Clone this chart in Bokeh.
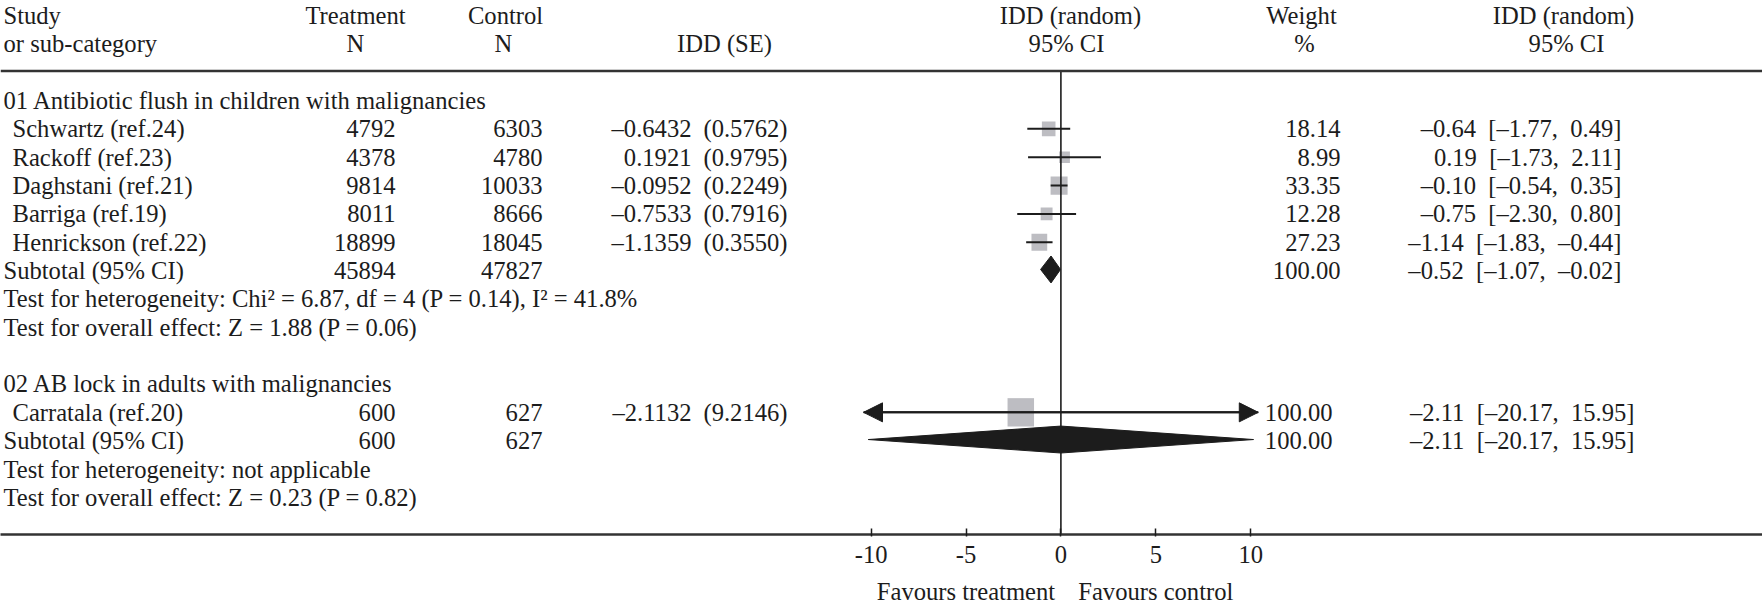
import math
from bokeh.plotting import figure
from bokeh.models import (Range1d, FixedTicker, LinearAxis, ColumnDataSource,
                          Span, Arrow, NormalHead)
from bokeh.core.properties import value
from bokeh.embed import file_html
from bokeh.resources import INLINE

# ---------------- data ----------------
group_titles = ["01 Antibiotic flush in children with malignancies",
                "02 AB lock in adults with malignancies"]
study_names = ["Schwartz (ref.24)", "Rackoff (ref.23)", "Daghstani (ref.21)",
               "Barriga (ref.19)", "Henrickson (ref.22)", "Carratala (ref.20)"]
study_group = [0, 0, 0, 0, 0, 1]
treat_n = [4792, 4378, 9814, 8011, 18899, 600]
ctrl_n = [6303, 4780, 10033, 8666, 18045, 627]
idd = [-0.6432, 0.1921, -0.0952, -0.7533, -1.1359, -2.1132]
idd_se = [0.5762, 0.9795, 0.2249, 0.7916, 0.3550, 9.2146]
weight_pct = [18.14, 8.99, 33.35, 12.28, 27.23, 100.00]
ci_low = [-1.77, -1.73, -0.54, -2.30, -1.83, -20.17]
ci_high = [0.49, 2.11, 0.35, 0.80, -0.44, 15.95]

subtotal_treat_n = [45894, 600]
subtotal_ctrl_n = [47827, 627]
subtotal_est = [-0.52, -2.11]
subtotal_low = [-1.07, -20.17]
subtotal_high = [-0.02, 15.95]
subtotal_weight = [100.00, 100.00]
heterogeneity_text = ["Test for heterogeneity: Chi\u00b2 = 6.87, df = 4 (P = 0.14), I\u00b2 = 41.8%",
                      "Test for heterogeneity: not applicable"]
overall_effect_text = ["Test for overall effect: Z = 1.88 (P = 0.06)",
                       "Test for overall effect: Z = 0.23 (P = 0.82)"]
x_ticks = [-10, -5, 0, 5, 10]
favour_labels = ["Favours treatment", "Favours control"]

# ---------------- layout constants ----------------
W, H = 1762, 607
FRAME_H = 535
ZERO_PX = 1060.4
PX_PER_UNIT = 18.98
ROW0_PX = 15.0
ROW_PX = 28.4
FONT = "Liberation Serif"
FS = "24.6px"
INK = "#1c1c1c"
BOX = "#bdbdc2"
ARROW_CLIP = 10.4
DIAMOND_CLIP = 10.15
WEIGHT_RIGHT = [1340, 1332]
CI_RIGHT = [1621, 1634]


def xd(px):
    return (px - ZERO_PX) / PX_PER_UNIT


def fm(v, d):
    return f"{v:.{d}f}".replace("-", "\u2013")


p = figure(width=W, height=H, output_backend="svg", toolbar_location=None,
           x_range=Range1d(xd(0), xd(W)),
           y_range=Range1d(start=(FRAME_H - ROW0_PX) / ROW_PX, end=-ROW0_PX / ROW_PX),
           y_axis_location=None, min_border_left=0, min_border_right=0,
           min_border_top=0, min_border_bottom=H - FRAME_H)
p.outline_line_color = None
p.grid.visible = False
p.background_fill_color = "white"
p.border_fill_color = "white"

texts = dict(x=[], y=[], text=[], align=[])


def put(px, k, s, align):
    texts["x"].append(xd(px))
    texts["y"].append(k)
    texts["text"].append(s)
    texts["align"].append(align)


# headers
put(3, 0, "Study", "left")
put(3, 1, "or sub-category", "left")
put(355, 0, "Treatment", "center")
put(355, 1, "N", "center")
put(505, 0, "Control", "center")
put(503, 1, "N", "center")
put(724, 1, "IDD (SE)", "center")
put(1070, 0, "IDD (random)", "center")
put(1066, 1, "95% CI", "center")
put(1301, 0, "Weight", "center")
put(1304, 1, "%", "center")
put(1563, 0, "IDD (random)", "center")
put(1566, 1, "95% CI", "center")

# rows
study_rows, sub_rows = [], []
k = 3
for g, title in enumerate(group_titles):
    put(3, k, title, "left")
    k += 1
    for i, name in enumerate(study_names):
        if study_group[i] != g:
            continue
        study_rows.append((i, k))
        est = round(idd[i], 2)
        put(12, k, name, "left")
        put(395, k, str(treat_n[i]), "right")
        put(542, k, str(ctrl_n[i]), "right")
        put(691, k, fm(idd[i], 4), "right")
        put(787, k, f"({idd_se[i]:.4f})", "right")
        put(WEIGHT_RIGHT[g], k, f"{weight_pct[i]:.2f}", "right")
        put(CI_RIGHT[g], k, f"{fm(est, 2)} \u00a0[{fm(ci_low[i], 2)}, \u00a0{fm(ci_high[i], 2)}]", "right")
        k += 1
    sub_rows.append((g, k))
    put(3, k, "Subtotal (95% CI)", "left")
    put(395, k, str(subtotal_treat_n[g]), "right")
    put(542, k, str(subtotal_ctrl_n[g]), "right")
    put(WEIGHT_RIGHT[g], k, f"{subtotal_weight[g]:.2f}", "right")
    put(CI_RIGHT[g], k, f"{fm(subtotal_est[g], 2)} \u00a0[{fm(subtotal_low[g], 2)}, \u00a0{fm(subtotal_high[g], 2)}]", "right")
    k += 1
    put(3, k, heterogeneity_text[g], "left")
    k += 1
    put(3, k, overall_effect_text[g], "left")
    k += 2

p.text(x="x", y="y", text="text", source=ColumnDataSource(texts),
       text_align="align", text_baseline="middle",
       text_font=value(FONT), text_font_size=value(FS), text_color=INK)

# header rule
p.add_layout(Span(location=(70.6 - ROW0_PX) / ROW_PX, dimension="width",
                  line_color="#333333", line_width=2.6))

# study boxes
bx = dict(x=[], y=[], w=[], h=[])
for i, kk in study_rows:
    s = 4 + 2.25 * math.sqrt(weight_pct[i])
    bx["x"].append(idd[i])
    bx["y"].append(kk)
    bx["w"].append(s)
    bx["h"].append(s * 1.07)
p.rect(x="x", y="y", width="w", height="h", width_units="screen", height_units="screen",
       source=ColumnDataSource(bx), fill_color=BOX, line_color=None)

# zero line
p.segment(x0=[0], y0=[(70.6 - ROW0_PX) / ROW_PX], x1=[0], y1=[p.y_range.start],
          line_color=INK, line_width=1.6)

# CI lines
seg = dict(x0=[], x1=[], y=[])
arr = dict(xs=[], xe=[], y=[])
for i, kk in study_rows:
    lo = max(ci_low[i], -ARROW_CLIP)
    hi = min(ci_high[i], ARROW_CLIP)
    seg["x0"].append(lo)
    seg["x1"].append(hi)
    seg["y"].append(kk)
    if ci_low[i] < -ARROW_CLIP:
        arr["xs"].append(idd[i]); arr["xe"].append(-ARROW_CLIP); arr["y"].append(kk)
    if ci_high[i] > ARROW_CLIP:
        arr["xs"].append(idd[i]); arr["xe"].append(ARROW_CLIP); arr["y"].append(kk)
p.segment(x0="x0", y0="y", x1="x1", y1="y", source=ColumnDataSource(seg),
          line_color=INK, line_width=2)
p.add_layout(Arrow(end=NormalHead(size=19, fill_color=INK, line_color=INK, line_width=1),
                   x_start="xs", y_start="y", x_end="xe", y_end="y",
                   source=ColumnDataSource(arr), line_color=INK, line_width=2))

# subtotal diamonds
dxs, dys = [], []
for g, kk in sub_rows:
    lo = max(subtotal_low[g], -DIAMOND_CLIP)
    hi = min(subtotal_high[g], DIAMOND_CLIP)
    clipped = subtotal_low[g] < -DIAMOND_CLIP or subtotal_high[g] > DIAMOND_CLIP
    c = (lo + hi) / 2 if clipped else subtotal_est[g]
    yc = kk - 0.04
    dxs.append([lo, c, hi, c])
    dys.append([yc, yc - 0.475, yc, yc + 0.475])
p.patches(xs=dxs, ys=dys, fill_color=INK, line_color=INK, line_width=1)

# x axis
ax = p.xaxis[0]
ax.ticker = FixedTicker(ticks=x_ticks)
ax.major_label_overrides = {t: str(t) for t in x_ticks}
ax.axis_line_color = "#333333"
ax.axis_line_width = 2.6
ax.major_tick_line_color = INK
ax.major_tick_line_width = 1.5
ax.major_tick_in = 6
ax.major_tick_out = 2
ax.minor_tick_line_color = None
ax.major_label_standoff = 9
ax.major_label_text_font = FONT
ax.major_label_text_font_size = FS
ax.major_label_text_color = INK

fav = LinearAxis(ticker=FixedTicker(ticks=[-5, 5]),
                 major_label_overrides={-5: favour_labels[0], 5: favour_labels[1]},
                 axis_line_color=None, major_tick_line_color=None,
                 minor_tick_line_color=None, major_tick_in=0, major_tick_out=0,
                 major_label_standoff=12, major_label_text_font=FONT,
                 major_label_text_font_size=FS, major_label_text_color=INK)
p.add_layout(fav, "below")

open("out.html", "w").write(file_html(p, INLINE))
